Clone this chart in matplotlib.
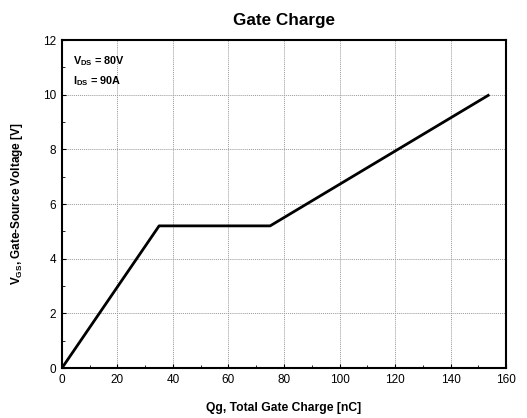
import matplotlib
matplotlib.use("Agg")
import matplotlib.pyplot as plt
from matplotlib.ticker import MultipleLocator

plt.rcParams["font.family"] = ["Liberation Sans", "DejaVu Sans"]
plt.rcParams["mathtext.fontset"] = "custom"
plt.rcParams["mathtext.rm"] = "Liberation Sans"
plt.rcParams["mathtext.bf"] = "Liberation Sans:bold"

# gate charge curve (nC, V)
qg = [0, 35, 75, 154]
vgs = [0, 5.2, 5.2, 10]

fig = plt.figure(figsize=(5.27, 4.18), dpi=100)
ax = fig.add_axes([0.1176, 0.1196, 0.9602 - 0.1176, 0.9043 - 0.1196])

ax.plot(qg, vgs, color="black", linewidth=2, solid_capstyle="butt")

ax.set_xlim(0, 160)
ax.set_ylim(0, 12)
ax.xaxis.set_major_locator(MultipleLocator(20))
ax.xaxis.set_minor_locator(MultipleLocator(10))
ax.yaxis.set_major_locator(MultipleLocator(2))
ax.yaxis.set_minor_locator(MultipleLocator(1))
ax.tick_params(which="both", direction="in", labelsize=8.5, pad=4)
ax.tick_params(which="major", length=3)
ax.tick_params(which="minor", length=2)
ax.grid(True, which="major", color="#999999", linestyle=(0, (1, 1)), linewidth=0.7)
for s in ax.spines.values():
    s.set_linewidth(1.5)

ax.set_title("Gate Charge", fontsize=12.3, fontweight="bold", pad=11)
ax.set_xlabel("Qg, Total Gate Charge [nC]", fontsize=8.7, fontweight="bold", labelpad=12)
ax.set_ylabel(r"V$_{\mathbf{GS}}$, Gate-Source Voltage [V]", fontsize=8.5,
              fontweight="bold", labelpad=13)

ax.text(0.025, 0.936, r"V$_{\mathbf{DS}}$ = 80V", transform=ax.transAxes,
        fontsize=7.8, fontweight="bold", va="center")
ax.text(0.025, 0.875, r"I$_{\mathbf{DS}}$ = 90A", transform=ax.transAxes,
        fontsize=7.8, fontweight="bold", va="center")

fig.savefig("out.png", dpi=100)
